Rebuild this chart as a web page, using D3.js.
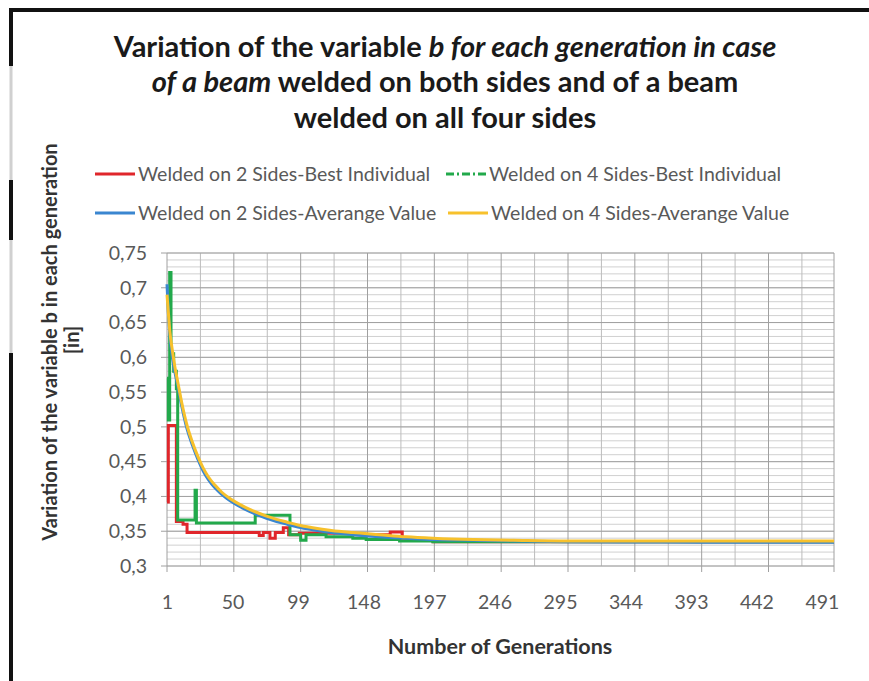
<!DOCTYPE html>
<html>
<head>
<meta charset="utf-8">
<script src="https://cdn.jsdelivr.net/npm/d3@7"></script>
<style>
  body { margin: 0; background: #fff; }
  text { font-family: Lato, Carlito, "Open Sans", sans-serif; }
  .tick text { fill: #595959; font-size: 19.5px; }
</style>
</head>
<body>
<div id="chart"></div>
<script>
// data
var xTicks = [1, 50, 99, 148, 197, 246, 295, 344, 393, 442, 491];
var yTicks = [0.3, 0.35, 0.4, 0.45, 0.5, 0.55, 0.6, 0.65, 0.7, 0.75];

var seriesNames = [
    'Welded on 2 Sides-Best Individual',
    'Welded on 4 Sides-Best Individual',
    'Welded on 2 Sides-Averange Value',
    'Welded on 4 Sides-Averange Value'
];

// best individual series are step-like: [generation, value] break points
var best2Sides = [
    [1, 0.392], [2, 0.502], [8, 0.364], [13, 0.360], [16, 0.348], [70, 0.344],
    [73, 0.348], [78, 0.340], [82, 0.348], [88, 0.355], [92, 0.345], [100, 0.347],
    [140, 0.345], [168, 0.349], [177, 0.340], [185, 0.337], [200, 0.335], [500, 0.335]
];
var best4Sides = [
    [1, 0.570], [2, 0.510], [3, 0.722], [4, 0.605], [6, 0.580], [8, 0.555],
    [9, 0.366], [22, 0.409], [23, 0.362], [67, 0.373], [93, 0.345], [101, 0.337],
    [105, 0.345], [120, 0.342], [140, 0.340], [150, 0.338], [175, 0.336],
    [200, 0.335], [500, 0.335]
];

// average series sampled at these generations
var avgGens = [1, 2, 3, 5, 7, 9, 12, 16, 20, 24, 28, 32, 37, 42, 48, 54, 60, 67,
    75, 83, 91, 99, 110, 124, 140, 160, 180, 200, 230, 260, 300, 350, 400, 450, 500];
var avg2Sides = [0.705, 0.665, 0.635, 0.600, 0.578, 0.560, 0.530, 0.497, 0.474,
    0.454, 0.437, 0.424, 0.412, 0.403, 0.394, 0.387, 0.381, 0.375, 0.369, 0.364,
    0.360, 0.356, 0.352, 0.348, 0.345, 0.342, 0.340, 0.338, 0.337, 0.336, 0.335,
    0.3345, 0.3343, 0.334, 0.334];
var avg4Sides = [0.690, 0.665, 0.640, 0.610, 0.585, 0.565, 0.535, 0.502, 0.478,
    0.458, 0.441, 0.428, 0.416, 0.406, 0.397, 0.390, 0.384, 0.378, 0.372, 0.367,
    0.363, 0.359, 0.355, 0.351, 0.348, 0.345, 0.342, 0.340, 0.338, 0.337, 0.336,
    0.336, 0.336, 0.336, 0.336];

var colors = ['#e0262b', '#22a94b', '#3a86d0', '#f7c12c'];

var svgWidth = 869;
var svgHeight = 681;

var svg = d3.select('#chart')
    .append('svg')
    .attr('width', svgWidth)
    .attr('height', svgHeight);

svg.append('rect')
    .attr('width', svgWidth)
    .attr('height', svgHeight)
    .attr('fill', '#fff');

// black frame pieces of the scanned page
svg.append('line').attr('x1', 10).attr('x2', 869).attr('y1', 10).attr('y2', 10)
    .attr('stroke', '#111').attr('stroke-width', 4);
svg.append('line').attr('x1', 11).attr('x2', 11).attr('y1', 66).attr('y2', 353)
    .attr('stroke', '#d0d0d0').attr('stroke-width', 3);
[[8, 66], [180, 240], [353, 681]].forEach(function(s) {
    svg.append('line').attr('x1', 11).attr('x2', 11).attr('y1', s[0]).attr('y2', s[1])
        .attr('stroke', '#111').attr('stroke-width', 4);
});

var plot = { left: 167, right: 834, top: 253, bottom: 566 };

var x = d3.scaleLinear()
    .domain([1, 500])
    .range([plot.left, plot.right]);

var y = d3.scaleLinear()
    .domain([0.3, 0.75])
    .range([plot.bottom, plot.top]);

// grid
var grid = svg.append('g');
grid.selectAll('line.hminor')
    .data(d3.range(30, 76).map(function(d) { return d / 100; }))
    .enter()
    .append('line')
    .attr('x1', plot.left).attr('x2', plot.right)
    .attr('y1', d => y(d)).attr('y2', d => y(d))
    .attr('stroke', '#d0d0d0').attr('stroke-width', 1);

grid.selectAll('line.vminor')
    .data(d3.range(26, 500, 50))
    .enter()
    .append('line')
    .attr('x1', d => x(d)).attr('x2', d => x(d))
    .attr('y1', plot.top).attr('y2', plot.bottom)
    .attr('stroke', '#bcbcbc').attr('stroke-width', 1);

grid.selectAll('line.vmajor')
    .data(d3.range(1, 500, 50).concat([500]))
    .enter()
    .append('line')
    .attr('x1', d => x(d)).attr('x2', d => x(d))
    .attr('y1', plot.top).attr('y2', plot.bottom + 6)
    .attr('stroke', '#a0a0a0').attr('stroke-width', 1);

grid.selectAll('line.hmajor')
    .data(yTicks)
    .enter()
    .append('line')
    .attr('x1', plot.left - 6).attr('x2', plot.right)
    .attr('y1', d => y(d)).attr('y2', d => y(d))
    .attr('stroke', '#a0a0a0').attr('stroke-width', 1);

// axes (labels only, lines come from the grid)
var leftAxis = d3.axisLeft(y)
    .tickValues(yTicks)
    .tickSize(0)
    .tickPadding(20)
    .tickFormat(d => d3.format('.2~f')(d).replace('.', ','));

var bottomAxis = d3.axisBottom(x)
    .tickValues(xTicks)
    .tickSize(0)
    .tickPadding(29);

svg.append('g')
    .attr('transform', `translate(${plot.left}, 0)`)
    .call(leftAxis)
    .call(g => g.select('.domain').remove());

svg.append('g')
    .attr('transform', `translate(0, ${plot.bottom})`)
    .call(bottomAxis)
    .call(g => g.select('.domain').remove());

// series
var stepLine = d3.line()
    .x(d => x(d[0]))
    .y(d => y(d[1]))
    .curve(d3.curveStepAfter);

var smoothLine = d3.line()
    .x((d, i) => x(avgGens[i]))
    .y(d => y(d))
    .curve(d3.curveMonotoneX);

svg.append('path').datum(best2Sides)
    .attr('d', stepLine)
    .attr('fill', 'none').attr('stroke', colors[0]).attr('stroke-width', 3);

svg.append('path').datum(best4Sides)
    .attr('d', stepLine)
    .attr('fill', 'none').attr('stroke', colors[1]).attr('stroke-width', 3);

svg.append('path').datum(avg2Sides)
    .attr('d', smoothLine)
    .attr('fill', 'none').attr('stroke', colors[2]).attr('stroke-width', 3);

svg.append('path').datum(avg4Sides)
    .attr('d', smoothLine)
    .attr('fill', 'none').attr('stroke', colors[3]).attr('stroke-width', 3);

// legend
var legendPos = [[95, 174], [446, 174], [95, 213], [448, 213]];
var legend = svg.selectAll('g.legend')
    .data(seriesNames)
    .enter()
    .append('g')
    .attr('transform', (d, i) => `translate(${legendPos[i][0]}, ${legendPos[i][1]})`);

legend.append('line')
    .attr('x1', 0).attr('x2', 40)
    .attr('stroke', (d, i) => colors[i])
    .attr('stroke-width', 3)
    .attr('stroke-dasharray', (d, i) => i === 1 ? '8,3,2,3' : null);

legend.append('text')
    .attr('x', 43)
    .attr('dy', '0.35em')
    .attr('fill', '#595959')
    .style('font-size', '19.5px')
    .text(d => d);

// title
var title = svg.append('text')
    .attr('text-anchor', 'middle')
    .attr('fill', '#1a1a1a')
    .style('font-size', '29px')
    .style('font-weight', 'bold');

var t1 = title.append('tspan').attr('x', 445).attr('y', 57);
t1.append('tspan').text('Variation of the variable ');
t1.append('tspan').style('font-style', 'italic').text('b for each generation in case');
var t2 = title.append('tspan').attr('x', 445).attr('y', 92);
t2.append('tspan').style('font-style', 'italic').text('of a beam');
t2.append('tspan').text(' welded on both sides and of a beam');
title.append('tspan').attr('x', 445).attr('y', 128).text('welded on all four sides');

// axis titles
svg.append('text')
    .attr('transform', 'translate(57, 342) rotate(-90)')
    .attr('text-anchor', 'middle')
    .attr('fill', '#333')
    .style('font-size', '20px')
    .style('font-weight', 'bold')
    .text('Variation of the variable b in each generation');

svg.append('text')
    .attr('transform', 'translate(79, 340) rotate(-90)')
    .attr('text-anchor', 'middle')
    .attr('fill', '#333')
    .style('font-size', '20px')
    .style('font-weight', 'bold')
    .text('[in]');

svg.append('text')
    .attr('x', 500)
    .attr('y', 654)
    .attr('text-anchor', 'middle')
    .attr('fill', '#333')
    .style('font-size', '21.5px')
    .style('font-weight', 'bold')
    .text('Number of Generations');
</script>
</body>
</html>
